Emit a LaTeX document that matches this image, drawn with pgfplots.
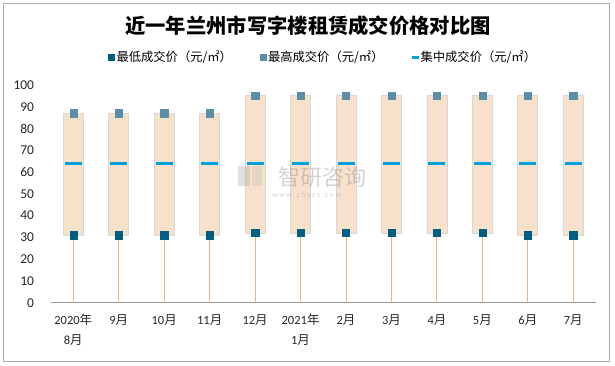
\documentclass[border=0pt]{standalone}
\usepackage{fontspec}
\setmainfont{Noto Sans CJK SC}
\newfontfamily\lat{Carlito}
\usepackage{pgfplots}
\pgfplotsset{compat=1.18}
\definecolor{boxfill}{RGB}{248,225,202}
\definecolor{boxdraw}{RGB}{215,215,215}
\definecolor{stem}{RGB}{244,177,120}
\definecolor{lowc}{RGB}{0,94,130}
\definecolor{highc}{RGB}{91,143,168}
\definecolor{midc}{RGB}{0,162,222}
\definecolor{axc}{RGB}{150,150,150}
\begin{document}
\begin{tikzpicture}
\useasboundingbox (0pt,0pt) rectangle (615pt,366pt);
\draw[color=axc!80, line width=0.8pt] (3pt,5pt) rectangle (609pt,363pt);
\node[font=\fontsize{20.3}{23}\selectfont\bfseries] at (308pt,340pt) {近一年兰州市写字楼租赁成交价格对比图};
\pgfplotsset{
  common/.style={
    at={(50.6pt,63.3pt)}, anchor=south west, scale only axis,
    width=545.4pt, height=217.7pt,
    xmin=-0.5, xmax=11.5, ymin=0, ymax=100,
  }
}
\begin{axis}[common, hide axis, ybar stacked, bar width=20pt]
\addplot[draw=none, fill=none] coordinates {(0,31) (1,31) (2,31) (3,31) (4,32) (5,32) (6,32) (7,32) (8,32) (9,32) (10,31) (11,31)};
\addplot[fill=boxfill, draw=boxdraw, line width=0.8pt] coordinates {(0,56) (1,56) (2,56) (3,56) (4,63) (5,63) (6,63) (7,63) (8,63) (9,63) (10,64) (11,64)};
\end{axis}
\begin{axis}[common,
  axis x line*=bottom, axis y line*=left,
  x axis line style={draw=axc, line width=0.8pt, -},
  y axis line style={draw=none},
  major tick length=0pt,
  xtick={0,...,11},
  xticklabels={{\lat 2020}年\\{\lat 8}月, {\lat 9}月, {\lat 10}月, {\lat 11}月, {\lat 12}月, {\lat 2021}年\\{\lat 1}月, {\lat 2}月, {\lat 3}月, {\lat 4}月, {\lat 5}月, {\lat 6}月, {\lat 7}月},
  xticklabel style={align=center, font=\fontsize{12.5}{20}\selectfont, yshift=-8pt, text=black!85},
  ytick={0,10,...,100},
  yticklabel style={font=\fontsize{13.5}{15}\selectfont\lat, xshift=-13pt, text=black!85},
  /pgf/number format/assume math mode=true,
  legend style={at={(0.5,1.127)}, anchor=center, draw=none, fill=none,
    font=\fontsize{12.3}{14}\selectfont, /tikz/every even column/.append style={column sep=26pt}},
  legend columns=3,
]
\addplot[ycomb, color=stem, line width=0.9pt, forget plot] coordinates {(0,31) (1,31) (2,31) (3,31) (4,32) (5,32) (6,32) (7,32) (8,32) (9,32) (10,31) (11,31)};
\addplot[only marks, mark=-, mark size=8.5pt, mark options={draw=midc, line width=3pt}, forget plot] coordinates {(0,64) (1,64) (2,64) (3,64) (4,64) (5,64) (6,64) (7,64) (8,64) (9,64) (10,64) (11,64)};
\addplot[only marks, mark=square*, mark size=3.6pt, mark options={draw=lowc, fill=lowc}, forget plot] coordinates {(0,31) (1,31) (2,31) (3,31) (4,32) (5,32) (6,32) (7,32) (8,32) (9,32) (10,31) (11,31)};
\addplot[only marks, mark=square*, mark size=3.6pt, mark options={draw=highc, fill=highc}, forget plot] coordinates {(0,87) (1,87) (2,87) (3,87) (4,95) (5,95) (6,95) (7,95) (8,95) (9,95) (10,95) (11,95)};
\addlegendimage{only marks, mark=square*, mark size=3pt, mark options={draw=lowc, fill=lowc}}
\addlegendentry{最低成交价（元/㎡）}
\addlegendimage{only marks, mark=square*, mark size=3pt, mark options={draw=highc, fill=highc}}
\addlegendentry{最高成交价（元/㎡）}
\addlegendimage{only marks, mark=-, mark size=3.5pt, mark options={draw=midc, line width=2.5pt}}
\addlegendentry{集中成交价（元/㎡）}
\end{axis}
% watermark
\begin{scope}[opacity=0.35]
\fill[gray!70] (238pt,180pt) rectangle (250pt,200pt);
\fill[gray!50] (252pt,180pt) rectangle (262pt,200pt);
\node[gray, font=\fontsize{22}{24}\selectfont] at (322pt,189pt) {智研咨询};
\node[gray, font=\fontsize{8}{9}\selectfont\lat] at (307pt,171pt) {w\,w\,w\,.\,c\,h\,y\,x\,x\,.\,c\,o\,m};
\end{scope}
\end{tikzpicture}
\end{document}
